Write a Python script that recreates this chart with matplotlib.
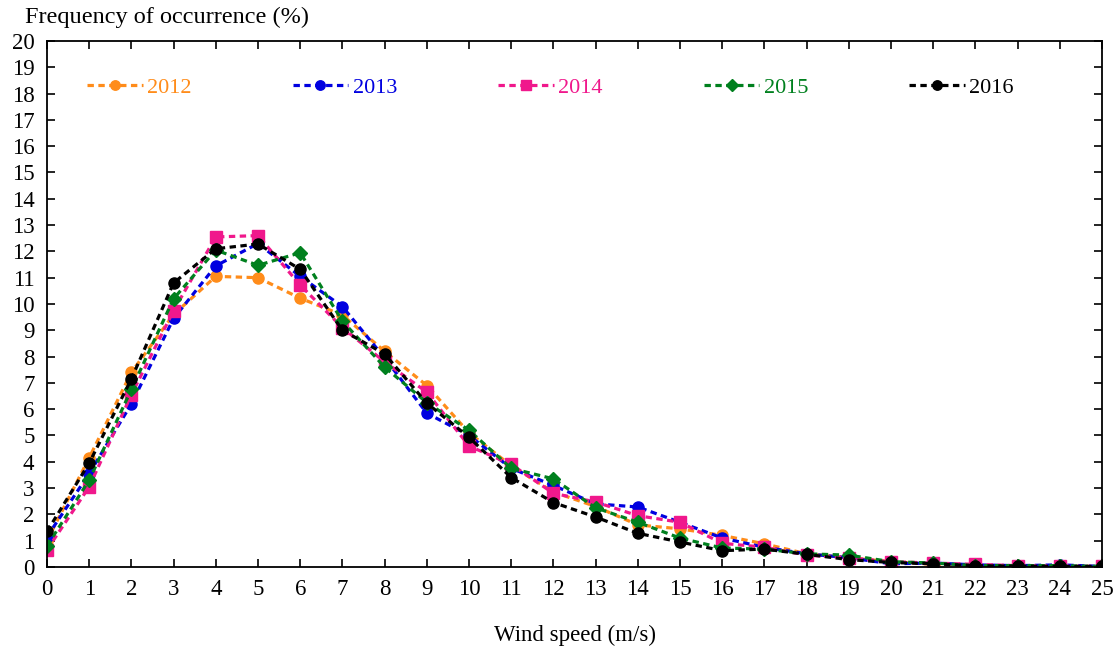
import matplotlib.pyplot as plt

plt.rcParams['font.family'] = 'Liberation Serif'

speed = list(range(26))
y2012 = [1.0, 4.15, 7.4, 9.6, 11.05, 11.0, 10.22, 9.58, 8.2, 6.9, 5.1, 3.85, 2.85, 2.3, 1.6, 1.45, 1.2, 0.88, 0.5, 0.35, 0.2, 0.1, 0.05, 0.05, 0.03, 0.02]
y2013 = [1.15, 3.55, 6.2, 9.45, 11.45, 12.3, 11.05, 9.9, 7.95, 5.85, 5.0, 3.75, 3.1, 2.4, 2.28, 1.7, 1.1, 0.75, 0.5, 0.35, 0.12, 0.15, 0.08, 0.05, 0.08, 0.02]
y2014 = [0.65, 3.05, 6.55, 9.75, 12.55, 12.6, 10.72, 9.1, 7.8, 6.65, 4.6, 3.9, 2.8, 2.47, 1.95, 1.7, 0.9, 0.75, 0.45, 0.35, 0.2, 0.15, 0.1, 0.05, 0.03, 0.02]
y2015 = [0.8, 3.3, 6.75, 10.2, 12.05, 11.47, 11.95, 9.35, 7.6, 6.25, 5.2, 3.75, 3.35, 2.25, 1.7, 1.1, 0.72, 0.68, 0.5, 0.45, 0.2, 0.15, 0.05, 0.05, 0.05, 0.02]
y2016 = [1.35, 3.95, 7.15, 10.8, 12.1, 12.28, 11.32, 9.0, 8.1, 6.23, 4.93, 3.4, 2.45, 1.9, 1.28, 0.95, 0.62, 0.68, 0.48, 0.28, 0.17, 0.12, 0.05, 0.03, 0.02, 0.02]

series = [
    ('2012', y2012, '#FF8C1A', 'o', 8),
    ('2013', y2013, '#0000E0', 'o', 8),
    ('2014', y2014, '#F0188C', 's', 8),
    ('2015', y2015, '#00801E', 'D', 7.5),
    ('2016', y2016, 'black', 'o', 8),
]

fig = plt.figure(figsize=(11.16, 6.55), dpi=100)
ax = fig.add_axes([0.0421, 0.1344, 0.9454, 0.803])

for name, vals, col, mk, ms in series:
    ax.plot(speed, vals, color=col, linestyle=(0, (2.0, 1.4)), linewidth=2.3,
            marker=mk, markersize=ms, label=name)

ax.set_xlim(0, 25)
ax.set_ylim(0, 20)
ax.set_xticks(range(26))
ax.set_yticks(range(21))
ax.tick_params(direction='in', top=True, right=True, length=6, width=1.2,
               labelsize=16.5)
ax.tick_params(axis='y', pad=9)
ax.tick_params(axis='x', pad=9)
for s in ax.spines.values():
    s.set_linewidth(1.3)

leg = ax.legend(loc='center left', bbox_to_anchor=(0.038, 0.911), ncol=5,
                frameon=False, fontsize=16, handlelength=2.5,
                handletextpad=0.2, columnspacing=4.55, borderpad=0,
                borderaxespad=0, markerscale=0.85)
for txt, (name, vals, col, mk, ms) in zip(leg.get_texts(), series):
    txt.set_color(col)

fig.text(0.022, 0.974, 'Frequency of occurrence (%)', fontsize=17.5,
         ha='left', va='center')
fig.text(0.515, 0.03, 'Wind speed (m/s)', fontsize=16.5, ha='center',
         va='center')

fig.savefig('out.png', dpi=100)
